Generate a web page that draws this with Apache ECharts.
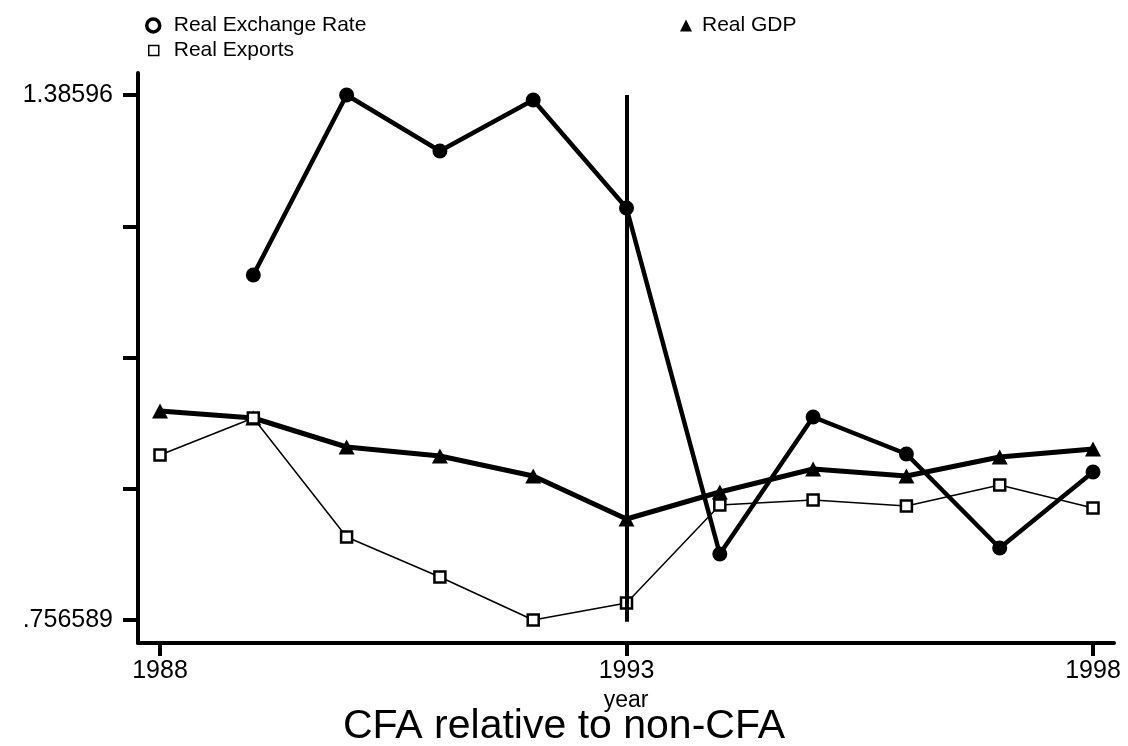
<!DOCTYPE html>
<html>
<head>
<meta charset="utf-8">
<script src="https://cdn.jsdelivr.net/npm/echarts@6/dist/echarts.min.js"></script>
<style>
html,body{margin:0;padding:0;background:#fff;}
#c{width:1128px;height:746px;}
</style>
</head>
<body>
<div id="c"></div>
<script>
const years = [1988, 1989, 1990, 1991, 1992, 1993, 1994, 1995, 1996, 1997, 1998];
const realExchangeRate = [null, 1.17017, 1.38596, 1.31883, 1.37997, 1.25050, 0.83571, 0.99995, 0.95559, 0.84290, 0.93401];
const realGDP = [1.00714, 0.99875, 0.96398, 0.95319, 0.92922, 0.87767, 0.91004, 0.93761, 0.92922, 0.95199, 0.96158];
const realExports = [0.95439, 0.99875, 0.85609, 0.80814, 0.756589, 0.77697, 0.89445, 0.90045, 0.89325, 0.91843, 0.89086];
const xTickValues = [1988, 1993, 1998];
const yMinLabel = 0.756589;
const yMaxLabel = 1.38596;
const yTickValues = [0, 1, 2, 3, 4].map(k => yMinLabel + k * (yMaxLabel - yMinLabel) / 4);
const yLabelValues = [yMinLabel, yMaxLabel];
const yLabelTexts = ['.756589', '1.38596'];
const breakYear = 1993;

function pairs(vals) {
  return years.map((y, i) => vals[i] == null ? null : [y, vals[i]]).filter(d => d);
}

const chart = echarts.init(document.getElementById('c'), null, {renderer: 'canvas'});
const FONT = 'Liberation Sans, Arial, Helvetica, sans-serif';
chart.setOption({
  animation: false,
  backgroundColor: '#fff',
  title: {
    text: 'CFA relative to non-CFA',
    left: 'center',
    top: 701,
    textStyle: {fontFamily: FONT, fontSize: 41, fontWeight: 'normal', color: '#000'}
  },
  legend: [
    {
      data: ['Real Exchange Rate'], left: 140, top: 10, icon: 'circle',
      itemWidth: 13, itemHeight: 13,
      itemStyle: {color: '#fff', borderColor: '#000', borderWidth: 3.5},
      textStyle: {fontFamily: FONT, fontSize: 21, color: '#000', padding: [0, 0, 0, 9]}
    },
    {
      data: ['Real GDP'], left: 675, top: 10, icon: 'triangle',
      itemWidth: 12, itemHeight: 12,
      itemStyle: {color: '#000', borderWidth: 0},
      textStyle: {fontFamily: FONT, fontSize: 21, color: '#000', padding: [0, 0, 0, 5]}
    },
    {
      data: ['Real Exports'], left: 143, top: 35, icon: 'rect',
      itemWidth: 10, itemHeight: 10,
      itemStyle: {color: '#fff', borderColor: '#000', borderWidth: 1.5},
      textStyle: {fontFamily: FONT, fontSize: 21, color: '#000', padding: [0, 0, 0, 10]}
    }
  ],
  grid: {left: 138, right: 14, top: 73, bottom: 103, containLabel: false},
  xAxis: {
    type: 'value',
    min: 1987.764,
    max: 1998.225,
    name: 'year',
    nameLocation: 'middle',
    nameGap: 38,
    nameTextStyle: {fontFamily: FONT, fontSize: 23, color: '#000'},
    splitLine: {show: false},
    axisLine: {lineStyle: {color: '#000', width: 4}},
    axisTick: {customValues: xTickValues, length: 13, lineStyle: {color: '#000', width: 4}},
    axisLabel: {
      customValues: xTickValues, margin: 16,
      fontFamily: FONT, fontSize: 25, color: '#000',
      formatter: v => String(Math.round(v))
    }
  },
  yAxis: {
    type: 'value',
    min: 0.729017,
    max: 1.412334,
    splitLine: {show: false},
    axisLine: {lineStyle: {color: '#000', width: 4}},
    axisTick: {customValues: yTickValues, length: 15, lineStyle: {color: '#000', width: 4}},
    axisLabel: {
      customValues: yLabelValues, margin: 25,
      fontFamily: FONT, fontSize: 25, color: '#000',
      formatter: v => Math.abs(v - yMinLabel) < 1e-4 ? yLabelTexts[0] : yLabelTexts[1]
    }
  },
  series: [
    {
      name: 'break', type: 'line', data: [], silent: true,
      markLine: {
        silent: true, symbol: ['none', 'none'], label: {show: false},
        lineStyle: {color: '#000', width: 4, type: 'solid'},
        data: [[{coord: [breakYear, yMinLabel - 0.002]}, {coord: [breakYear, yMaxLabel]}]]
      }
    },
    {
      name: 'Real Exchange Rate', type: 'line', data: pairs(realExchangeRate),
      symbol: 'circle', symbolSize: 15,
      lineStyle: {color: '#000', width: 4.5},
      itemStyle: {color: '#000'}
    },
    {
      name: 'Real GDP', type: 'line', data: pairs(realGDP),
      symbol: 'triangle', symbolSize: [16, 15],
      lineStyle: {color: '#000', width: 5},
      itemStyle: {color: '#000'}
    },
    {
      name: 'Real Exports', type: 'line', data: pairs(realExports),
      symbol: 'rect', symbolSize: 11,
      lineStyle: {color: '#000', width: 1.5},
      itemStyle: {color: '#fff', borderColor: '#000', borderWidth: 2.5}
    }
  ]
});
</script>
</body>
</html>
